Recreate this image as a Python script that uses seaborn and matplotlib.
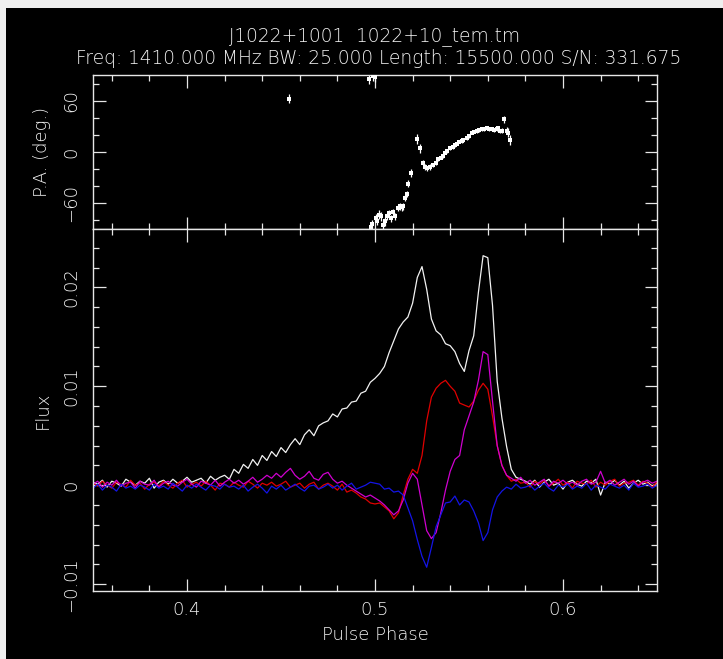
import numpy as np
import pandas as pd
import matplotlib
matplotlib.use("Agg")
import matplotlib.pyplot as plt
import seaborn as sns
from matplotlib.ticker import MultipleLocator, FixedLocator, FuncFormatter
from matplotlib.patches import Rectangle

# ---------------- data ----------------
title_line1 = "J1022+1001  1022+10_tem.tm"
title_line2 = "Freq: 1410.000 MHz BW: 25.000 Length: 15500.000 S/N: 331.675"

# common pulse-phase grid (0.35 .. 0.65, step 0.0025)
phase = np.round(np.arange(0.35, 0.65001, 0.0025), 4)

# flux values in units of 1e-3
flux_total = [
    0.3, 0.1, 0.5, -0.2, 0.4, 0.2, -0.1, 0.6, 0.3, 0.0,
    0.4, 0.2, 0.7, -0.3, 0.3, 0.5, 0.1, 0.6, 0.2, 0.4,
    0.8, 0.3, 0.5, 0.7, 0.2, 0.9, 0.5, 0.8, 1.0, 0.6,
    1.6, 1.2, 2.1, 1.7, 2.6, 2.0, 3.0, 2.5, 3.4, 2.9,
    3.8, 3.3, 4.1, 4.7, 4.1, 5.1, 5.6, 5.0, 6.0, 6.3,
    6.5, 7.2, 6.9, 7.7, 7.8, 8.4, 8.5, 9.3, 9.5, 10.4,
    10.8, 11.3, 12.0, 13.4, 14.6, 15.8, 16.5, 17.0, 18.4, 21.0,
    22.1, 19.8, 16.8, 15.6, 15.2, 14.3, 14.1, 13.5, 12.3, 11.5,
    13.6, 15.1, 19.5, 23.2, 23.0, 18.2, 10.5, 6.8, 3.9, 1.6,
    0.8, 0.6,
    0.4, 0.1, 0.5, -0.2, 0.3, 0.6, 0.0, 0.2, -0.4, 0.3,
    0.5, 0.1, -0.1, 0.4, 0.2, 0.6, -1.0, 0.3, 0.1, 0.5,
    0.0, 0.4, -0.3, 0.2, 0.5, 0.1, 0.3, -0.1, 0.2,
]
flux_linear = [
    0.2, -0.1, 0.4, 0.0, -0.3, 0.3, 0.1, -0.2, 0.5, 0.0,
    0.2, -0.4, 0.1, 0.3, -0.1, 0.4, 0.0, -0.3, 0.2, 0.5,
    -0.2, 0.1, 0.3, -0.1, 0.4, 0.0, -0.5, 0.2, 0.1, -0.2,
    0.3, 0.0, -0.2, 0.4, 0.1, -0.3, 0.2, 0.0, 0.3, -0.1,
    0.1, 0.4, -0.2, 0.0, 0.2, -0.3, 0.1, 0.3, -0.4, 0.0,
    0.2, -0.1, -0.5, 0.1, -0.7, -0.5, -0.8, -1.2, -1.4, -1.8,
    -1.9, -1.8, -2.2, -2.6, -3.4, -2.8, -1.0, 0.6, 1.6, 1.2,
    3.0, 6.5, 8.9, 9.8, 10.3, 10.6, 10.0, 9.5, 8.3, 8.1,
    7.9, 8.5, 9.6, 10.3, 9.7, 7.0, 4.0, 2.0, 1.0, 0.4,
    0.6, 0.2,
    0.3, -0.2, 0.4, 0.1, 0.5, -0.1, 0.2, 0.6, 0.0, 0.3,
    -0.3, 0.4, 0.2, 0.1, 0.5, -0.2, 0.3, 0.0, 0.4, 0.6,
    -0.1, 0.2, 0.3, 0.5, 0.0, 0.4, 0.2, -0.2, 0.3,
]
flux_magenta = [
    0.1, 0.4, -0.2, 0.3, 0.0, 0.5, -0.1, 0.2, 0.3, -0.3,
    0.4, 0.1, 0.0, 0.5, -0.2, 0.2, 0.4, 0.0, -0.1, 0.3,
    0.6, 0.1, -0.2, 0.4, 0.2, 0.0, 0.5, -0.1, 0.3, 0.6,
    0.2, 0.5, 0.1, 0.4, 0.8, 0.3, 0.6, 1.0, 0.7, 1.2,
    0.8, 1.3, 1.7, 1.0, 0.6, 0.9, 1.4, 0.7, 0.5, 1.1,
    1.3, 0.6, 0.2, 0.4, 0.0, -0.3, -0.6, -0.9, -1.2, -1.0,
    -1.3, -1.6, -2.0, -2.5, -3.0, -2.6, -1.5, 0.2, 1.2, 0.6,
    -2.0, -4.6, -5.4, -4.8, -2.8, -0.5, 1.4, 2.6, 3.0, 5.6,
    7.0, 8.4, 10.6, 13.5, 13.2, 8.5, 4.0, 2.0, 1.0, 0.7,
    0.4, 0.8,
    0.2, 0.5, 0.0, 0.3, 0.6, -0.1, 0.4, 0.2, 0.5, 0.1,
    0.3, 0.0, 0.4, 0.6, 0.1, 0.3, 1.4, 0.2, 0.5, 0.0,
    0.3, 0.6, 0.1, 0.4, -0.1, 0.3, 0.5, 0.2, 0.4,
]
flux_blue = [
    -0.3, 0.1, -0.5, 0.0, -0.2, -0.6, 0.1, -0.3, -0.1, -0.4,
    0.0, -0.2, -0.5, 0.1, -0.3, -0.1, -0.4, 0.2, -0.2, -0.6,
    0.0, -0.3, 0.1, -0.2, -0.5, 0.0, -0.1, -0.4, 0.1, -0.2,
    -0.1, -0.4, 0.0, -0.6, -0.2, 0.1, -0.3, -0.8, -0.1, -0.4,
    0.0, -0.5, -0.2, 0.1, -0.3, -0.6, -0.1, 0.0, -0.4, -0.2,
    0.1, -0.3, 0.0, -0.5, -0.1, 0.2, -0.4, -0.2, 0.0, 0.3,
    0.2, 0.1, -0.4, -0.3, -0.7, -0.6, -1.0, -2.3, -3.6, -5.5,
    -7.2, -8.3, -6.3, -4.2, -3.0, -1.8, -1.7, -1.1, -2.0, -1.5,
    -1.7, -2.6, -3.8, -5.6, -4.8, -2.5, -1.2, -0.6, -0.2, -0.4,
    0.1, -0.3,
    -0.2, 0.0, -0.5, -0.1, 0.2, -0.3, -0.6, 0.0, -0.2, 0.1,
    -0.4, -0.1, -0.3, 0.2, -0.5, 0.0, -0.2, -0.4, 0.1, -0.1,
    -0.3, 0.0, -0.5, 0.2, -0.2, -0.1, 0.1, -0.3, 0.0,
]

# position angle points
pa_phase = [0.4543,
            0.4966, 0.4991, 0.5002,
            0.4977, 0.4984, 0.5005, 0.5012, 0.5023, 0.5030, 0.5041, 0.5053, 0.5066,
            0.5076, 0.5083, 0.5094, 0.5106, 0.5124, 0.5133, 0.5142, 0.5151, 0.5160,
            0.5168, 0.5177, 0.5190,
            0.5222, 0.5239, 0.5254, 0.5266, 0.5278, 0.5293, 0.5310, 0.5324, 0.5337,
            0.5349, 0.5360, 0.5372, 0.5385, 0.5399, 0.5413, 0.5426, 0.5438, 0.5449,
            0.5461, 0.5470, 0.5488, 0.5502, 0.5514, 0.5527, 0.5541, 0.5555, 0.5567,
            0.5580, 0.5594, 0.5608, 0.5621, 0.5633, 0.5647, 0.5656, 0.5665, 0.5677,
            0.5686, 0.5700, 0.5709, 0.5718]
pa_deg = [62.4,
          85.5, 89.4, 87.4,
          -87.1, -84.3, -77.3, -80.4, -73.3, -75.3, -85.1, -81.2, -75.3,
          -71.4, -77.3, -70.2, -75.3, -65.5, -63.5, -64.7, -63.5, -53.7,
          -49.0, -37.3, -24.3,
          14.9, 4.3, -12.5, -17.6, -19.2, -17.6, -15.3, -12.5, -8.6,
          -6.7, -4.7, -0.8, 1.2, 4.3, 5.9, 8.2, 9.8, 12.2,
          12.9, 13.7, 16.1, 18.8, 22.7, 23.9, 24.7, 25.9, 26.7,
          27.1, 27.5, 27.1, 26.3, 25.9, 26.7, 27.5, 24.7, 24.7,
          38.4, 24.7, 22.7, 13.7]
pa_err = [5,
          6, 6, 6,
          5, 5, 5, 5, 5, 5, 5, 5, 4,
          4, 4, 4, 4, 4, 4, 4, 4, 4,
          4, 4, 5,
          6, 5, 3, 3, 3, 3, 2.5, 2.5, 2.5,
          2, 2, 2, 2, 2, 2, 2, 2, 2,
          2, 2, 2, 2, 2, 2, 2, 2, 2,
          2, 2, 2, 2, 2, 2, 2.5, 2.5, 3,
          4, 4, 5, 6]

series_names = ["Total", "Linear", "Magenta", "Circular"]
series_colors = ["#f2f2f2", "#e00000", "#d000d0", "#1414e6"]

for arr in (flux_total, flux_linear, flux_magenta, flux_blue):
    assert len(arr) == len(phase), (len(arr), len(phase))
assert len(pa_phase) == len(pa_deg) == len(pa_err), (len(pa_phase), len(pa_deg), len(pa_err))

# long-form table
frames = []
for name, vals in zip(series_names, (flux_total, flux_linear, flux_magenta, flux_blue)):
    frames.append(pd.DataFrame({"phase": phase,
                                "flux": np.asarray(vals) * 1e-3,
                                "series": name}))
df = pd.concat(frames, ignore_index=True)
pa_df = pd.DataFrame({"phase": pa_phase, "pa": pa_deg, "err": pa_err})

# ---------------- style ----------------
sns.set_style("ticks")
plt.rcParams["font.family"] = ["DejaVu Sans"]
plt.rcParams["font.weight"] = 200
plt.rcParams["axes.labelweight"] = 200
fg = "#f4f4f4"
axc = "#e6e6e6"

W, H = 723, 659
fig = plt.figure(figsize=(W / 100, H / 100), dpi=100, facecolor="black")
# light frame strips (top and left) seen in the reference
fig.add_artist(Rectangle((0, 1 - 8 / H), 1, 8 / H, transform=fig.transFigure,
                         facecolor="#efefef", edgecolor="none", zorder=-5))
fig.add_artist(Rectangle((0, 0), 6 / W, 1, transform=fig.transFigure,
                         facecolor="#efefef", edgecolor="none", zorder=-5))

x0, x1 = 93 / W, 657 / W
ax_pa = fig.add_axes([x0, 1 - 229 / H, x1 - x0, (229 - 75) / H])
ax_fl = fig.add_axes([x0, 1 - 591 / H, x1 - x0, (591 - 229) / H])

for ax in (ax_pa, ax_fl):
    ax.set_facecolor("black")
    for sp in ax.spines.values():
        sp.set_color(axc)
        sp.set_linewidth(1.0)
        sp.set_visible(True)
    ax.tick_params(which="both", direction="in", top=True, right=True,
                   bottom=True, left=True, color=axc, labelcolor=fg, width=0.9)
    ax.tick_params(which="major", length=9)
    ax.tick_params(which="minor", length=4.5)
    ax.set_xlim(0.35, 0.65)
    ax.xaxis.set_major_locator(MultipleLocator(0.1))
    ax.xaxis.set_minor_locator(MultipleLocator(0.02))
    ax.grid(False)

# ---- flux panel ----
sns.lineplot(data=df, x="phase", y="flux", hue="series", hue_order=series_names,
             palette=dict(zip(series_names, series_colors)), estimator=None,
             linewidth=0.9, legend=False, ax=ax_fl)
ax_fl.set_ylim(-0.0107, 0.0259)
ax_fl.yaxis.set_major_locator(FixedLocator([-0.01, 0.0, 0.01, 0.02]))
ax_fl.yaxis.set_minor_locator(MultipleLocator(0.002))


def flux_fmt(v, pos):
    s = "%g" % round(v, 4)
    return s.replace("-", "\u2212")


ax_fl.yaxis.set_major_formatter(FuncFormatter(flux_fmt))
ax_fl.xaxis.set_major_formatter(FuncFormatter(lambda v, p: "%.1f" % v))
ax_fl.tick_params(axis="x", labelsize=13, pad=7)
ax_fl.tick_params(axis="y", labelsize=13, pad=9, labelrotation=90)
for lab in ax_fl.get_yticklabels():
    lab.set_va("center")
ax_fl.set_xlabel("Pulse Phase", color=fg, fontsize=13, labelpad=5, fontweight=200)
ax_fl.set_ylabel("Flux", color=fg, fontsize=13, labelpad=8, fontweight=200)

# ---- PA panel ----
ax_pa.errorbar(pa_df["phase"], pa_df["pa"], yerr=pa_df["err"], fmt="none",
               ecolor="white", elinewidth=0.9, capsize=0, zorder=2)
sns.scatterplot(data=pa_df, x="phase", y="pa", color="white", marker="s",
                s=6, linewidth=0, ax=ax_pa, zorder=3)
ax_pa.set_ylim(-90, 90)
ax_pa.yaxis.set_major_locator(FixedLocator([-60, 0, 60]))
ax_pa.yaxis.set_minor_locator(MultipleLocator(20))
ax_pa.yaxis.set_major_formatter(FuncFormatter(lambda v, p: ("%d" % v).replace("-", "\u2212")))
ax_pa.tick_params(axis="x", labelbottom=False)
ax_pa.tick_params(axis="y", labelsize=13, pad=9, labelrotation=90)
for lab in ax_pa.get_yticklabels():
    lab.set_va("center")
ax_pa.set_xlabel("")
ax_pa.set_ylabel("P.A. (deg.)", color=fg, fontsize=13, labelpad=8, fontweight=200)

# titles
fig.text(375 / W, 1 - 37 / H, title_line1, color=fg, fontsize=13.4,
         ha="center", va="center", fontweight=200)
fig.text(379 / W, 1 - 59 / H, title_line2, color=fg, fontsize=13.4,
         ha="center", va="center", fontweight=200)

fig.savefig("out.png", dpi=100, facecolor="black")
